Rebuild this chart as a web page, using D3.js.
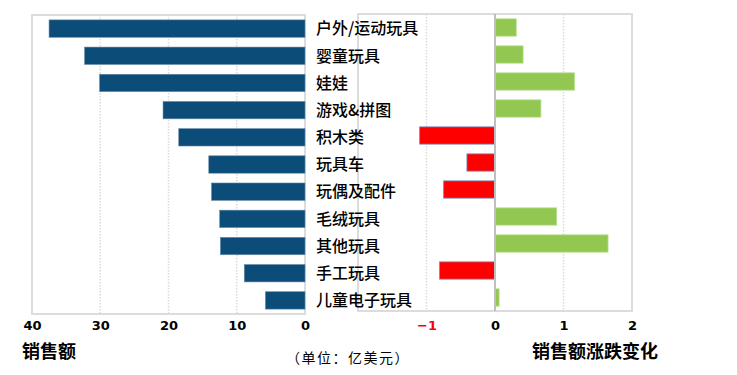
<html>
<head>
	<meta charset="utf-8">
	<script src="https://d3js.org/d3.v7.min.js"></script>
	<style>
		body { margin: 0; background: #fff; }
		.tick text { font-family: "DejaVu Sans", Verdana, sans-serif; font-weight: bold; font-size: 13px; fill: #000; }
	</style>
</head>
<body>
	<script>
		var categories = ["户外/运动玩具", "婴童玩具", "娃娃", "游戏&拼图", "积木类", "玩具车", "玩偶及配件", "毛绒玩具", "其他玩具", "手工玩具", "儿童电子玩具"];
		var sales = [37.5, 32.3, 30.1, 20.8, 18.5, 14.1, 13.7, 12.5, 12.4, 8.9, 5.8]; // 销售额（亿美元）
		var change = [0.31, 0.41, 1.16, 0.67, -1.10, -0.41, -0.75, 0.90, 1.65, -0.81, 0.06]; // 涨跌变化
		var salesTicks = [0, 10, 20, 30, 40];
		var changeTicks = [-1, 0, 1, 2];

		var w = 737, h = 375;
		var cjk = '"Noto Sans CJK SC", sans-serif';

		var svg = d3.select("body").append("svg").attr("width", w).attr("height", h);

		// ---- right panel: 涨跌变化 ----
		var xR = d3.scaleLinear().domain([-2, 2]).range([358, 632]);
		var yR = d3.scaleBand().domain(categories).range([14, 311]).paddingInner(0.36).paddingOuter(0.18);

		var right = svg.append("g");
		right.append("rect").attr("x", xR(-2)).attr("y", 14).attr("width", xR(2) - xR(-2)).attr("height", 297)
			.attr("fill", "none").attr("stroke", "#dcdcdc").attr("stroke-width", 2);
		right.selectAll(".grid").data([-1, 1]).enter().append("line")
			.attr("x1", function(d){ return xR(d); }).attr("x2", function(d){ return xR(d); })
			.attr("y1", 14).attr("y2", 311)
			.attr("stroke", "#dadada").attr("stroke-width", 1.5).attr("stroke-dasharray", "1.5,1.5");
		right.selectAll(".bar").data(categories).enter().append("rect")
			.attr("x", function(d, i){ return xR(Math.min(0, change[i])); })
			.attr("y", function(d){ return yR(d); })
			.attr("width", function(d, i){ return Math.abs(xR(change[i]) - xR(0)); })
			.attr("height", yR.bandwidth())
			.attr("fill", function(d, i){ return change[i] < 0 ? "#ff0000" : "#92c851"; })
			.attr("stroke", function(d, i){ return change[i] < 0 ? "#7090c0" : "#b6dc8a"; })
			.attr("stroke-width", 0.8);
		right.append("line").attr("x1", xR(0)).attr("x2", xR(0)).attr("y1", 14).attr("y2", 311)
			.attr("stroke", "#bfbfbf").attr("stroke-width", 2);

		var axR = right.append("g").attr("transform", "translate(0,318)")
			.call(d3.axisBottom(xR).tickValues(changeTicks).tickSize(0).tickPadding(3).tickFormat(d3.format("d")));
		axR.select(".domain").remove();
		axR.selectAll(".tick text").style("fill", function(d){ return d < 0 ? "#ff0000" : "#000"; });

		// ---- left panel: 销售额 ----
		var xL = d3.scaleLinear().domain([0, 40]).range([305, 32]);
		var yL = d3.scaleBand().domain(categories).range([15, 314]).paddingInner(0.36).paddingOuter(0.18);

		var left = svg.append("g");
		left.append("rect").attr("x", xL(40)).attr("y", 15).attr("width", xL(0) - xL(40)).attr("height", 299)
			.attr("fill", "#fff").attr("stroke", "#dcdcdc").attr("stroke-width", 2);
		left.selectAll(".grid").data([10, 20, 30]).enter().append("line")
			.attr("x1", function(d){ return xL(d); }).attr("x2", function(d){ return xL(d); })
			.attr("y1", 15).attr("y2", 314)
			.attr("stroke", "#dadada").attr("stroke-width", 1.5).attr("stroke-dasharray", "1.5,1.5");
		left.selectAll(".bar").data(categories).enter().append("rect")
			.attr("x", function(d, i){ return xL(sales[i]); })
			.attr("y", function(d){ return yL(d); })
			.attr("width", function(d, i){ return xL(0) - xL(sales[i]); })
			.attr("height", yL.bandwidth())
			.attr("fill", "#0b4d78").attr("stroke", "#6a8aa8").attr("stroke-width", 0.6);

		var axL = left.append("g").attr("transform", "translate(0,318)")
			.call(d3.axisBottom(xL).tickValues(salesTicks).tickSize(0).tickPadding(3));
		axL.select(".domain").remove();

		// category labels
		svg.selectAll(".cat").data(categories).enter().append("text")
			.attr("x", 316)
			.attr("y", function(d){ return yL(d) + yL.bandwidth() / 2; })
			.attr("dy", "0.36em")
			.style("font-family", cjk).style("font-size", "16px").style("font-weight", "500").attr("fill", "#000")
			.text(function(d){ return d; });

		// titles
		svg.append("text").attr("x", 22).attr("y", 358)
			.style("font-family", cjk).style("font-size", "18px").style("font-weight", "bold")
			.text("销售额");
		svg.append("text").attr("x", 286).attr("y", 363)
			.style("font-family", cjk).style("font-size", "14px").style("letter-spacing", "1.5px")
			.text("（单位：亿美元）");
		svg.append("text").attr("x", 532).attr("y", 358)
			.style("font-family", cjk).style("font-size", "18px").style("font-weight", "bold")
			.text("销售额涨跌变化");
	</script>
</body>
</html>
